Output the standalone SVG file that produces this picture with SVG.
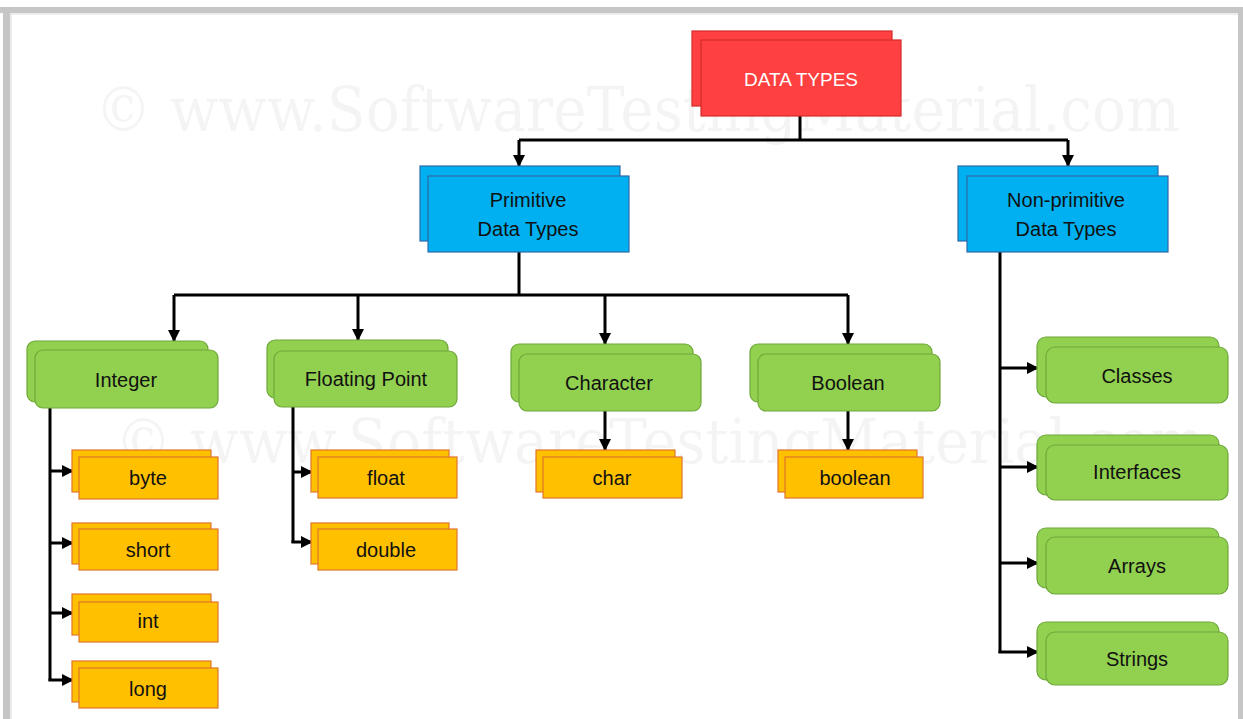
<svg xmlns="http://www.w3.org/2000/svg" width="1243" height="719" viewBox="0 0 1243 719">
<defs>
<marker id="ah" markerWidth="12" markerHeight="12" refX="11" refY="6" orient="auto" markerUnits="userSpaceOnUse">
<path d="M0,0 L12,6 L0,12 Z" fill="#000"/>
</marker>
<style>
.frame{fill:#c6c6c6}
.wm{font-family:"DejaVu Serif","Liberation Serif",serif;font-size:62px;fill:#000;fill-opacity:0.045}
.red{fill:#ff4040;stroke:#d42a2a;stroke-width:1.2}
.blue{fill:#00b0f0;stroke:#2e6aa8;stroke-width:1.2}
.green{fill:#92d050;stroke:#6fa83a;stroke-width:1.2}
.orange{fill:#ffc000;stroke:#e0752a;stroke-width:1.2}
.t{font-family:"Liberation Sans",Arial,sans-serif;font-size:20px;fill:#111;text-anchor:middle;dominant-baseline:central}
.tw{font-family:"Liberation Sans",Arial,sans-serif;font-size:19px;fill:#fff;text-anchor:middle;dominant-baseline:central}
.c{fill:none;stroke:#000;stroke-width:3}
.a{fill:none;stroke:#000;stroke-width:3;marker-end:url(#ah)}
</style>
</defs>
<rect width="1243" height="719" fill="#fff"/>
<rect class="frame" x="0" y="7" width="1243" height="6"/>
<rect class="frame" x="3" y="7" width="7" height="712"/>
<rect x="10" y="13" width="1233" height="2" fill="#ececec"/>
<rect x="10" y="13" width="2" height="706" fill="#ececec"/>
<rect class="frame" x="1238" y="7" width="5" height="712"/>
<text class="wm" x="95" y="131" textLength="1085" lengthAdjust="spacingAndGlyphs">©  www.SoftwareTestingMaterial.com</text>
<text class="wm" x="115" y="463" textLength="1090" lengthAdjust="spacingAndGlyphs">©  www.SoftwareTestingMaterial.com</text>

<g id="connectors">
<path class="c" d="M800,116 V140 M519,140 H1068"/>
<path class="a" d="M519,140 V166"/>
<path class="a" d="M1068,140 V166"/>
<path class="c" d="M519,252 V295 M174,295 H848"/>
<path class="a" d="M174,295 V341"/>
<path class="a" d="M358,295 V340"/>
<path class="a" d="M605,295 V344"/>
<path class="a" d="M848,295 V344"/>
<path class="a" d="M605,411 V450"/>
<path class="a" d="M848,411 V450"/>
<path class="c" d="M50,408 V681"/>
<path class="a" d="M50,471 H73"/>
<path class="a" d="M50,543 H73"/>
<path class="a" d="M50,613 H73"/>
<path class="a" d="M48.5,680 H73"/>
<path class="c" d="M293,407 V543"/>
<path class="a" d="M293,472 H312"/>
<path class="a" d="M291.5,542 H312"/>
<path class="c" d="M1000,252 V653"/>
<path class="a" d="M1000,368 H1038"/>
<path class="a" d="M1000,467 H1038"/>
<path class="a" d="M1000,563 H1038"/>
<path class="a" d="M998.5,652 H1038"/>
</g>

<g id="data-types">
<rect class="red" x="692" y="31" width="200" height="75"/>
<rect class="red" x="701" y="40" width="200" height="76"/>
<text class="tw" x="801" y="79">DATA TYPES</text>
</g>

<g id="primitive">
<rect class="blue" x="420" y="166" width="200" height="75"/>
<rect class="blue" x="428" y="176" width="201" height="76"/>
<text class="t" x="528" y="200">Primitive</text>
<text class="t" x="528" y="229">Data Types</text>
</g>

<g id="non-primitive">
<rect class="blue" x="958" y="166" width="200" height="75"/>
<rect class="blue" x="967" y="176" width="201" height="76"/>
<text class="t" x="1066" y="200">Non-primitive</text>
<text class="t" x="1066" y="229">Data Types</text>
</g>

<g id="integer">
<rect class="green" x="27" y="341" width="181" height="61" rx="8"/>
<rect class="green" x="35" y="350" width="183" height="58" rx="8"/>
<text class="t" x="126" y="380">Integer</text>
</g>

<g id="floating-point">
<rect class="green" x="267" y="340" width="181" height="58" rx="8"/>
<rect class="green" x="274" y="351" width="183" height="56" rx="8"/>
<text class="t" x="366" y="379">Floating Point</text>
</g>

<g id="character">
<rect class="green" x="511" y="344" width="182" height="58" rx="8"/>
<rect class="green" x="519" y="354" width="182" height="57" rx="8"/>
<text class="t" x="609" y="383">Character</text>
</g>

<g id="boolean-type">
<rect class="green" x="750" y="344" width="182" height="58" rx="8"/>
<rect class="green" x="758" y="354" width="182" height="57" rx="8"/>
<text class="t" x="848" y="383">Boolean</text>
</g>

<g id="byte">
<rect class="orange" x="72" y="450" width="139" height="42"/>
<rect class="orange" x="79" y="457" width="139" height="42"/>
<text class="t" x="148" y="478">byte</text>
</g>

<g id="short">
<rect class="orange" x="72" y="523" width="139" height="41"/>
<rect class="orange" x="79" y="529" width="139" height="41"/>
<text class="t" x="148" y="550">short</text>
</g>

<g id="int">
<rect class="orange" x="72" y="594" width="139" height="41"/>
<rect class="orange" x="79" y="602" width="139" height="40"/>
<text class="t" x="148" y="621">int</text>
</g>

<g id="long">
<rect class="orange" x="72" y="661" width="139" height="41"/>
<rect class="orange" x="79" y="668" width="139" height="40"/>
<text class="t" x="148" y="689">long</text>
</g>

<g id="float">
<rect class="orange" x="311" y="450" width="138" height="42"/>
<rect class="orange" x="318" y="457" width="139" height="41"/>
<text class="t" x="386" y="478">float</text>
</g>

<g id="double">
<rect class="orange" x="311" y="523" width="138" height="41"/>
<rect class="orange" x="318" y="529" width="139" height="41"/>
<text class="t" x="386" y="550">double</text>
</g>

<g id="char">
<rect class="orange" x="536" y="450" width="139" height="42"/>
<rect class="orange" x="543" y="457" width="139" height="41"/>
<text class="t" x="612" y="478">char</text>
</g>

<g id="boolean">
<rect class="orange" x="778" y="450" width="139" height="42"/>
<rect class="orange" x="785" y="457" width="138" height="41"/>
<text class="t" x="855" y="478">boolean</text>
</g>

<g id="classes">
<rect class="green" x="1037" y="337" width="182" height="60" rx="9"/>
<rect class="green" x="1046" y="347" width="182" height="56" rx="9"/>
<text class="t" x="1137" y="376">Classes</text>
</g>

<g id="interfaces">
<rect class="green" x="1037" y="435" width="182" height="60" rx="9"/>
<rect class="green" x="1046" y="445" width="182" height="55" rx="9"/>
<text class="t" x="1137" y="472">Interfaces</text>
</g>

<g id="arrays">
<rect class="green" x="1037" y="528" width="182" height="60" rx="9"/>
<rect class="green" x="1046" y="537" width="182" height="57" rx="9"/>
<text class="t" x="1137" y="566">Arrays</text>
</g>

<g id="strings">
<rect class="green" x="1037" y="622" width="182" height="58" rx="9"/>
<rect class="green" x="1046" y="632" width="182" height="53" rx="9"/>
<text class="t" x="1137" y="659">Strings</text>
</g>
</svg>
